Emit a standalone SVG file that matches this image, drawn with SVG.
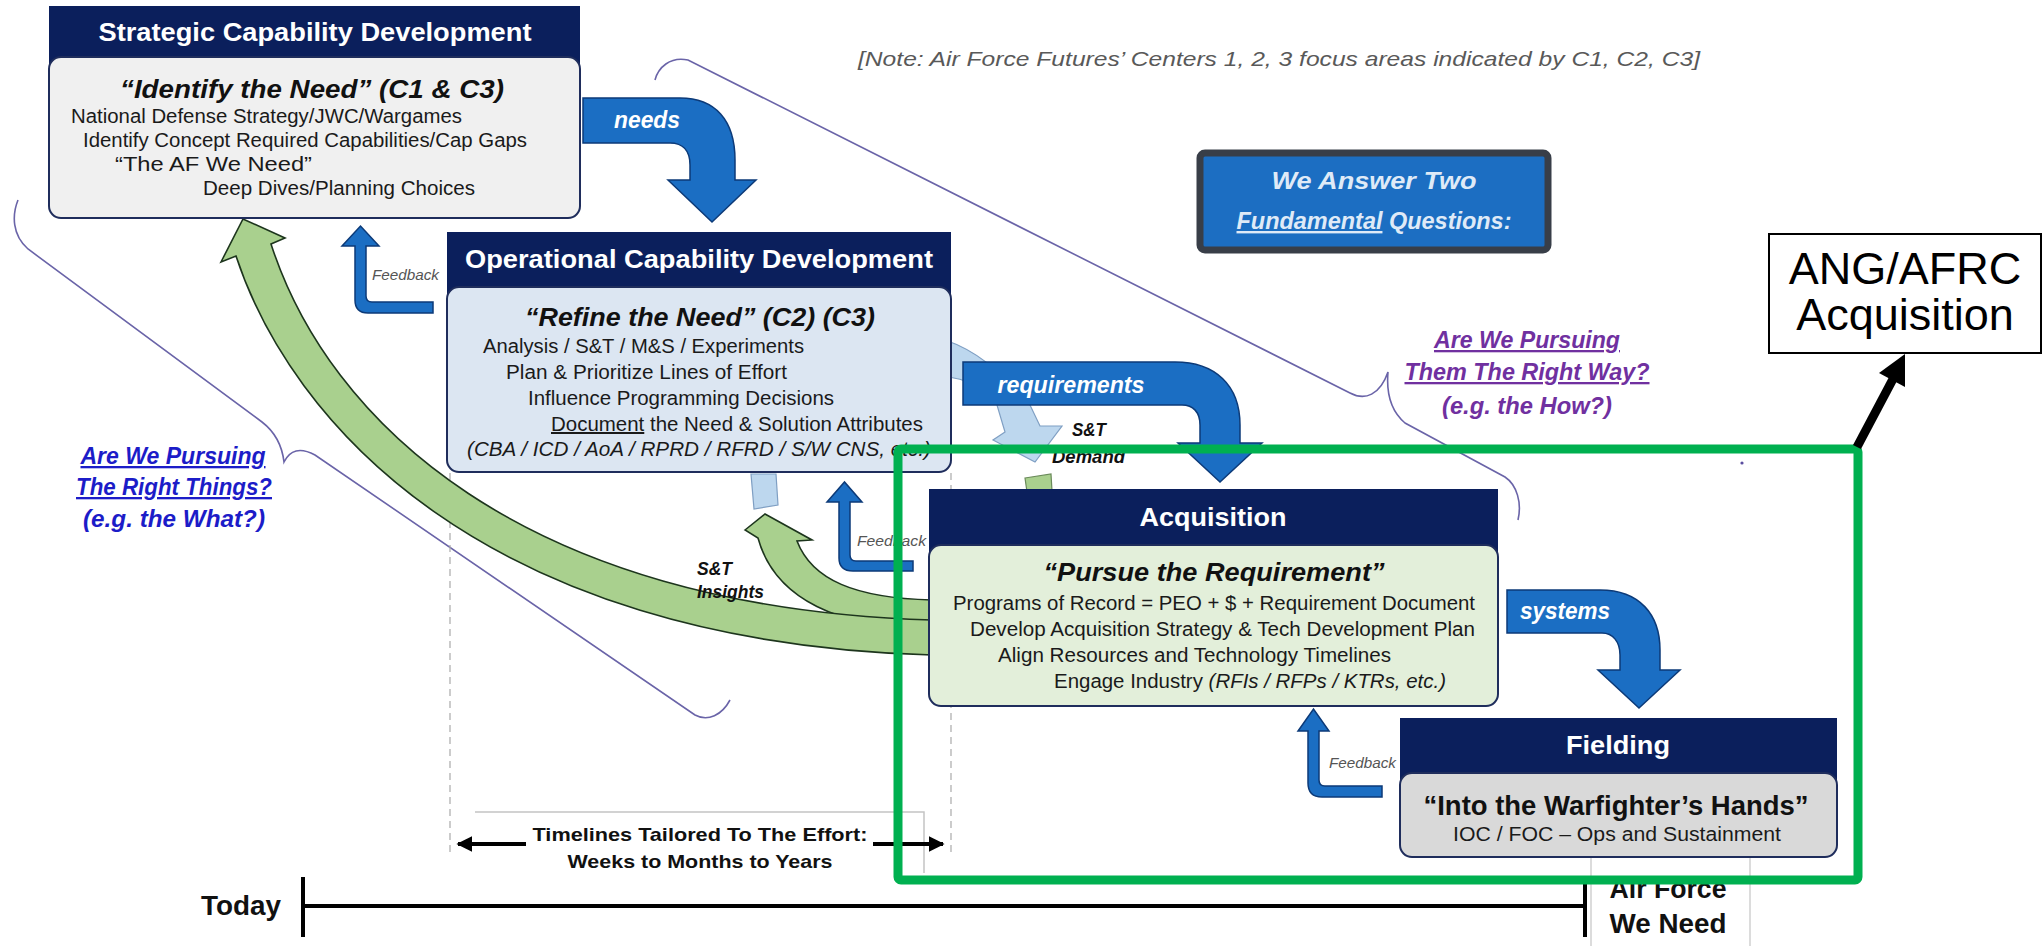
<svg xmlns="http://www.w3.org/2000/svg" width="2043" height="946" viewBox="0 0 2043 946">
<defs>
<style>
text{font-family:"Liberation Sans",Arial,sans-serif}
.hd{font-weight:bold;fill:#fff;font-size:26px;text-anchor:middle}
.sub{font-weight:bold;font-style:italic;fill:#111;font-size:26px;text-anchor:middle}
.bd{fill:#1a1a1a;font-size:20px}
.lbl{font-weight:bold;font-style:italic;fill:#fff;font-size:23px;text-anchor:middle}
.fb{font-style:italic;fill:#555;font-size:14px}
.st{font-weight:bold;font-style:italic;fill:#111;font-size:19px}
.qb{font-weight:bold;font-style:italic;font-size:23px;text-anchor:middle;fill:#1c1cc8}
.qp{font-weight:bold;font-style:italic;font-size:23px;text-anchor:middle;fill:#7030a0}
.tl{font-weight:bold;fill:#111;font-size:19px;text-anchor:middle}
.wa{font-weight:bold;font-style:italic;font-size:24px;fill:#dfeaf7;text-anchor:middle}
.hdr{fill:#0b1f5c}
.brace{fill:none;stroke:#6a64a8;stroke-width:1.6}
.barrow{fill:#1b6ec3;stroke:#0c3a78;stroke-width:1.5}
.garrow{fill:#a9d08e;stroke:#1d351d;stroke-width:1.6}
.lbarrow{fill:#bdd7ee;stroke:#7f9fc3;stroke-width:1.2}
.dash{stroke:#aaa;stroke-width:1.2;stroke-dasharray:7 5;fill:none}
</style>
<marker id="ah" viewBox="0 0 10 10" refX="9" refY="5" markerWidth="4" markerHeight="4" orient="auto-start-reverse"><path d="M0,0 L10,5 L0,10 Z" fill="#000"/></marker>
</defs>
<rect width="2043" height="946" fill="#fff"/>

<g id="braces">
<path class="brace" d="M655,80 C658,68 670,56 688,60 L1350,393 C1365,401 1380,395 1388,372 C1386,395 1392,412 1405,423 L1505,477 C1517,485 1522,503 1518,520"/>
<path class="brace" d="M18,200 C12,215 12,235 28,249 L262,422 C275,432 282,445 284,462 C290,450 300,447 315,455 L695,715 C708,722 722,715 730,700"/>
<circle cx="1742" cy="463" r="1.6" fill="#5a4ea0"/>
</g>

<g id="guides">
<line class="dash" x1="450" y1="473" x2="450" y2="857"/>
<line class="dash" x1="951" y1="473" x2="951" y2="857"/>
<polyline points="475,812 924,812 924,873" fill="none" stroke="#c4c4c4" stroke-width="1.5"/>
<line x1="1591" y1="858" x2="1591" y2="946" stroke="#d0d0d0" stroke-width="1.5"/>
<line x1="1750" y1="858" x2="1750" y2="946" stroke="#d0d0d0" stroke-width="1.5"/>
</g>

<g id="connectors">
<path class="lbarrow" d="M751,474 L776,474 L778,505 L754,509 Z"/>
<path class="lbarrow" d="M945,340 C975,350 1000,370 1030,405 L1040,426 L1062,426 L1035,462 L993,440 L1005,432 L997,405 C985,390 968,378 945,377 Z"/>
<path d="M1025,478 L1051,474 L1052,491 L1027,492 Z" fill="#a9d08e" stroke="#6a8a5a" stroke-width="1.2"/>
<path class="garrow" d="M745,530 L765,514 L812,540 L797,541 C812,580 855,598 932,600 L932,630 C840,628 775,600 758,538 Z"/>
<path class="garrow" d="M221,262 L243,219 L285,238 L271,244 C328,420 520,608 932,620 L932,655 C480,642 290,420 236,256 Z"/>
<path class="barrow" d="M583,98 L680,98 C715,98 735,120 735,160 L735,180 L756,180 L712,222 L668,180 L690,180 L690,165 C690,150 682,143 670,143 L583,143 Z"/>
<path class="barrow" d="M963,362 L1175,362 C1215,362 1240,385 1240,425 L1240,443 L1262,443 L1220,482 L1178,443 L1200,443 L1200,425 C1200,412 1193,405 1182,405 L963,405 Z"/>
<path class="barrow" d="M1507,590 L1600,590 C1640,590 1660,615 1660,650 L1660,670 L1680,670 L1639,708 L1598,670 L1620,670 L1620,655 C1620,642 1613,633 1602,633 L1507,633 Z"/>
<path class="barrow" d="M433,302 L372,302 Q366,302 366,296 L366,246 L379,246 L360.5,226 L342,246 L355,246 L355,300 Q355,313 368,313 L433,313 Z"/>
<path class="barrow" d="M913,561 L856,561 Q850,561 850,555 L850,502 L862,502 L844.5,482 L827,502 L839,502 L839,558 Q839,571 853,571 L913,571 Z"/>
<path class="barrow" d="M1382,786 L1325,786 Q1319,786 1319,780 L1319,731 L1329,731 L1313.5,709 L1298,731 L1308,731 L1308,783 Q1308,797 1322,797 L1382,797 Z"/>
<text class="lbl" x="647" y="128" textLength="66" lengthAdjust="spacingAndGlyphs">needs</text>
<text class="lbl" x="1071" y="393" textLength="147" lengthAdjust="spacingAndGlyphs">requirements</text>
<text class="lbl" x="1565" y="619" textLength="90" lengthAdjust="spacingAndGlyphs">systems</text>
<text class="st" x="1072" y="436" textLength="34" lengthAdjust="spacingAndGlyphs">S&amp;T</text>
<text class="st" x="1052" y="463" textLength="73" lengthAdjust="spacingAndGlyphs">Demand</text>
<text class="st" x="697" y="575" textLength="35" lengthAdjust="spacingAndGlyphs">S&amp;T</text>
<text class="st" x="697" y="598" textLength="67" lengthAdjust="spacingAndGlyphs">Insights</text>
<text class="fb" x="372" y="280" textLength="67" lengthAdjust="spacingAndGlyphs">Feedback</text>
<text class="fb" x="857" y="546" textLength="69" lengthAdjust="spacingAndGlyphs">Feedback</text>
<text class="fb" x="1329" y="768" textLength="67" lengthAdjust="spacingAndGlyphs">Feedback</text>
</g>

<g id="strategic">
<rect class="hdr" x="49" y="6" width="531" height="64"/>
<rect x="49" y="57" width="531" height="161" rx="12" fill="#f0f0f0" stroke="#1f2d5c" stroke-width="2"/>
<text class="hd" x="315" y="41" textLength="433" lengthAdjust="spacingAndGlyphs">Strategic Capability Development</text>
<text class="sub" x="312" y="98" textLength="384" lengthAdjust="spacingAndGlyphs">“Identify the Need” (C1 &amp; C3)</text>
<text class="bd" x="71" y="123" textLength="391" lengthAdjust="spacingAndGlyphs">National Defense Strategy/JWC/Wargames</text>
<text class="bd" x="83" y="147" textLength="444" lengthAdjust="spacingAndGlyphs">Identify Concept Required Capabilities/Cap Gaps</text>
<text class="bd" x="115" y="171" textLength="197" lengthAdjust="spacingAndGlyphs">“The AF We Need”</text>
<text class="bd" x="203" y="195" textLength="272" lengthAdjust="spacingAndGlyphs">Deep Dives/Planning Choices</text>
</g>

<g id="operational">
<rect class="hdr" x="447" y="232" width="504" height="68"/>
<rect x="447" y="287" width="504" height="185" rx="12" fill="#dce6f2" stroke="#1f2d5c" stroke-width="2"/>
<text class="hd" x="699" y="268" textLength="468" lengthAdjust="spacingAndGlyphs">Operational Capability Development</text>
<text class="sub" x="700" y="326" textLength="350" lengthAdjust="spacingAndGlyphs">“Refine the Need” (C2) (C3)</text>
<text class="bd" x="483" y="353" textLength="321" lengthAdjust="spacingAndGlyphs">Analysis / S&amp;T / M&amp;S / Experiments</text>
<text class="bd" x="506" y="379" textLength="281" lengthAdjust="spacingAndGlyphs">Plan &amp; Prioritize Lines of Effort</text>
<text class="bd" x="528" y="405" textLength="306" lengthAdjust="spacingAndGlyphs">Influence Programming Decisions</text>
<text class="bd" x="551" y="431" textLength="372" lengthAdjust="spacingAndGlyphs"><tspan text-decoration="underline">Document</tspan> the Need &amp; Solution Attributes</text>
<text class="bd" x="467" y="456" font-style="italic" textLength="464" lengthAdjust="spacingAndGlyphs">(CBA / ICD / AoA / RPRD / RFRD / S/W CNS, etc.)</text>
</g>

<g id="acquisition">
<rect class="hdr" x="929" y="489" width="569" height="68"/>
<rect x="929" y="545" width="569" height="161" rx="12" fill="#e3efda" stroke="#1f2d5c" stroke-width="2"/>
<text class="hd" x="1213" y="526" textLength="147" lengthAdjust="spacingAndGlyphs">Acquisition</text>
<text class="sub" x="1214" y="581" textLength="341" lengthAdjust="spacingAndGlyphs">“Pursue the Requirement”</text>
<text class="bd" x="953" y="610" textLength="522" lengthAdjust="spacingAndGlyphs">Programs of Record = PEO + $ + Requirement Document</text>
<text class="bd" x="970" y="636" textLength="505" lengthAdjust="spacingAndGlyphs">Develop Acquisition Strategy &amp; Tech Development Plan</text>
<text class="bd" x="998" y="662" textLength="393" lengthAdjust="spacingAndGlyphs">Align Resources and Technology Timelines</text>
<text class="bd" x="1054" y="688" textLength="392" lengthAdjust="spacingAndGlyphs">Engage Industry <tspan font-style="italic">(RFIs / RFPs / KTRs, etc.)</tspan></text>
</g>

<g id="fielding">
<rect class="hdr" x="1400" y="718" width="437" height="68"/>
<rect x="1400" y="773" width="437" height="84" rx="12" fill="#d9d9d9" stroke="#1f2d5c" stroke-width="2"/>
<text class="hd" x="1618" y="754" textLength="104" lengthAdjust="spacingAndGlyphs">Fielding</text>
<text x="1616" y="815" font-weight="bold" font-size="27" fill="#111" text-anchor="middle" textLength="385" lengthAdjust="spacingAndGlyphs">“Into the Warfighter’s Hands”</text>
<text class="bd" x="1617" y="841" text-anchor="middle" textLength="328" lengthAdjust="spacingAndGlyphs">IOC / FOC – Ops and Sustainment</text>
</g>

<g id="questions">
<rect x="1200" y="153" width="348" height="97" rx="5" fill="#1c6ec2" stroke="#383e48" stroke-width="7"/>
<text class="wa" x="1374" y="189" textLength="205" lengthAdjust="spacingAndGlyphs">We Answer Two</text>
<text class="wa" x="1374" y="229" textLength="275" lengthAdjust="spacingAndGlyphs"><tspan text-decoration="underline">Fundamental</tspan> Questions:</text>
</g>

<g id="note">
<text x="858" y="66" font-style="italic" font-size="21" fill="#595959" textLength="842" lengthAdjust="spacingAndGlyphs">[Note: Air Force Futures’ Centers 1, 2, 3 focus areas indicated by C1, C2, C3]</text>
</g>

<g id="q-what">
<text class="qb" x="173" y="464" text-decoration="underline" textLength="185" lengthAdjust="spacingAndGlyphs">Are We Pursuing</text>
<text class="qb" x="174" y="495" text-decoration="underline" textLength="196" lengthAdjust="spacingAndGlyphs">The Right Things?</text>
<text class="qb" x="174" y="527" textLength="182" lengthAdjust="spacingAndGlyphs">(e.g. the What?)</text>
</g>
<g id="q-how">
<text class="qp" x="1527" y="348" text-decoration="underline" textLength="186" lengthAdjust="spacingAndGlyphs">Are We Pursuing</text>
<text class="qp" x="1527" y="380" text-decoration="underline" textLength="245" lengthAdjust="spacingAndGlyphs">Them The Right Way?</text>
<text class="qp" x="1527" y="414" textLength="170" lengthAdjust="spacingAndGlyphs">(e.g. the How?)</text>
</g>

<g id="timeline">
<line x1="526" y1="844" x2="458" y2="844" stroke="#000" stroke-width="4" marker-end="url(#ah)"/>
<line x1="873" y1="844" x2="943" y2="844" stroke="#000" stroke-width="4" marker-end="url(#ah)"/>
<text class="tl" x="700" y="841" textLength="335" lengthAdjust="spacingAndGlyphs">Timelines Tailored To The Effort:</text>
<text class="tl" x="700" y="868" textLength="265" lengthAdjust="spacingAndGlyphs">Weeks to Months to Years</text>
<text x="241" y="915" font-weight="bold" font-size="28" fill="#111" text-anchor="middle" textLength="80" lengthAdjust="spacingAndGlyphs">Today</text>
<line x1="303" y1="877" x2="303" y2="937" stroke="#000" stroke-width="4"/>
<line x1="303" y1="906" x2="1585" y2="906" stroke="#000" stroke-width="4"/>
<line x1="1585" y1="880" x2="1585" y2="937" stroke="#000" stroke-width="4"/>
<text x="1668" y="898" font-weight="bold" font-size="28" fill="#111" text-anchor="middle" textLength="117" lengthAdjust="spacingAndGlyphs">Air Force</text>
<text x="1668" y="933" font-weight="bold" font-size="28" fill="#111" text-anchor="middle" textLength="117" lengthAdjust="spacingAndGlyphs">We Need</text>
</g>

<g id="highlight">
<rect x="898" y="449" width="960" height="431" rx="3" fill="none" stroke="#00b050" stroke-width="9"/>
</g>

<g id="ang-afrc">
<line x1="1857" y1="447" x2="1893" y2="379" stroke="#000" stroke-width="9"/>
<path d="M1905,354 L1905,387 L1879,373 Z" fill="#000"/>
<rect x="1769" y="234" width="272" height="119" fill="#fff" stroke="#000" stroke-width="2"/>
<text x="1905" y="284" font-size="45" fill="#000" text-anchor="middle">ANG/AFRC</text>
<text x="1905" y="330" font-size="45" fill="#000" text-anchor="middle">Acquisition</text>
</g>
</svg>
